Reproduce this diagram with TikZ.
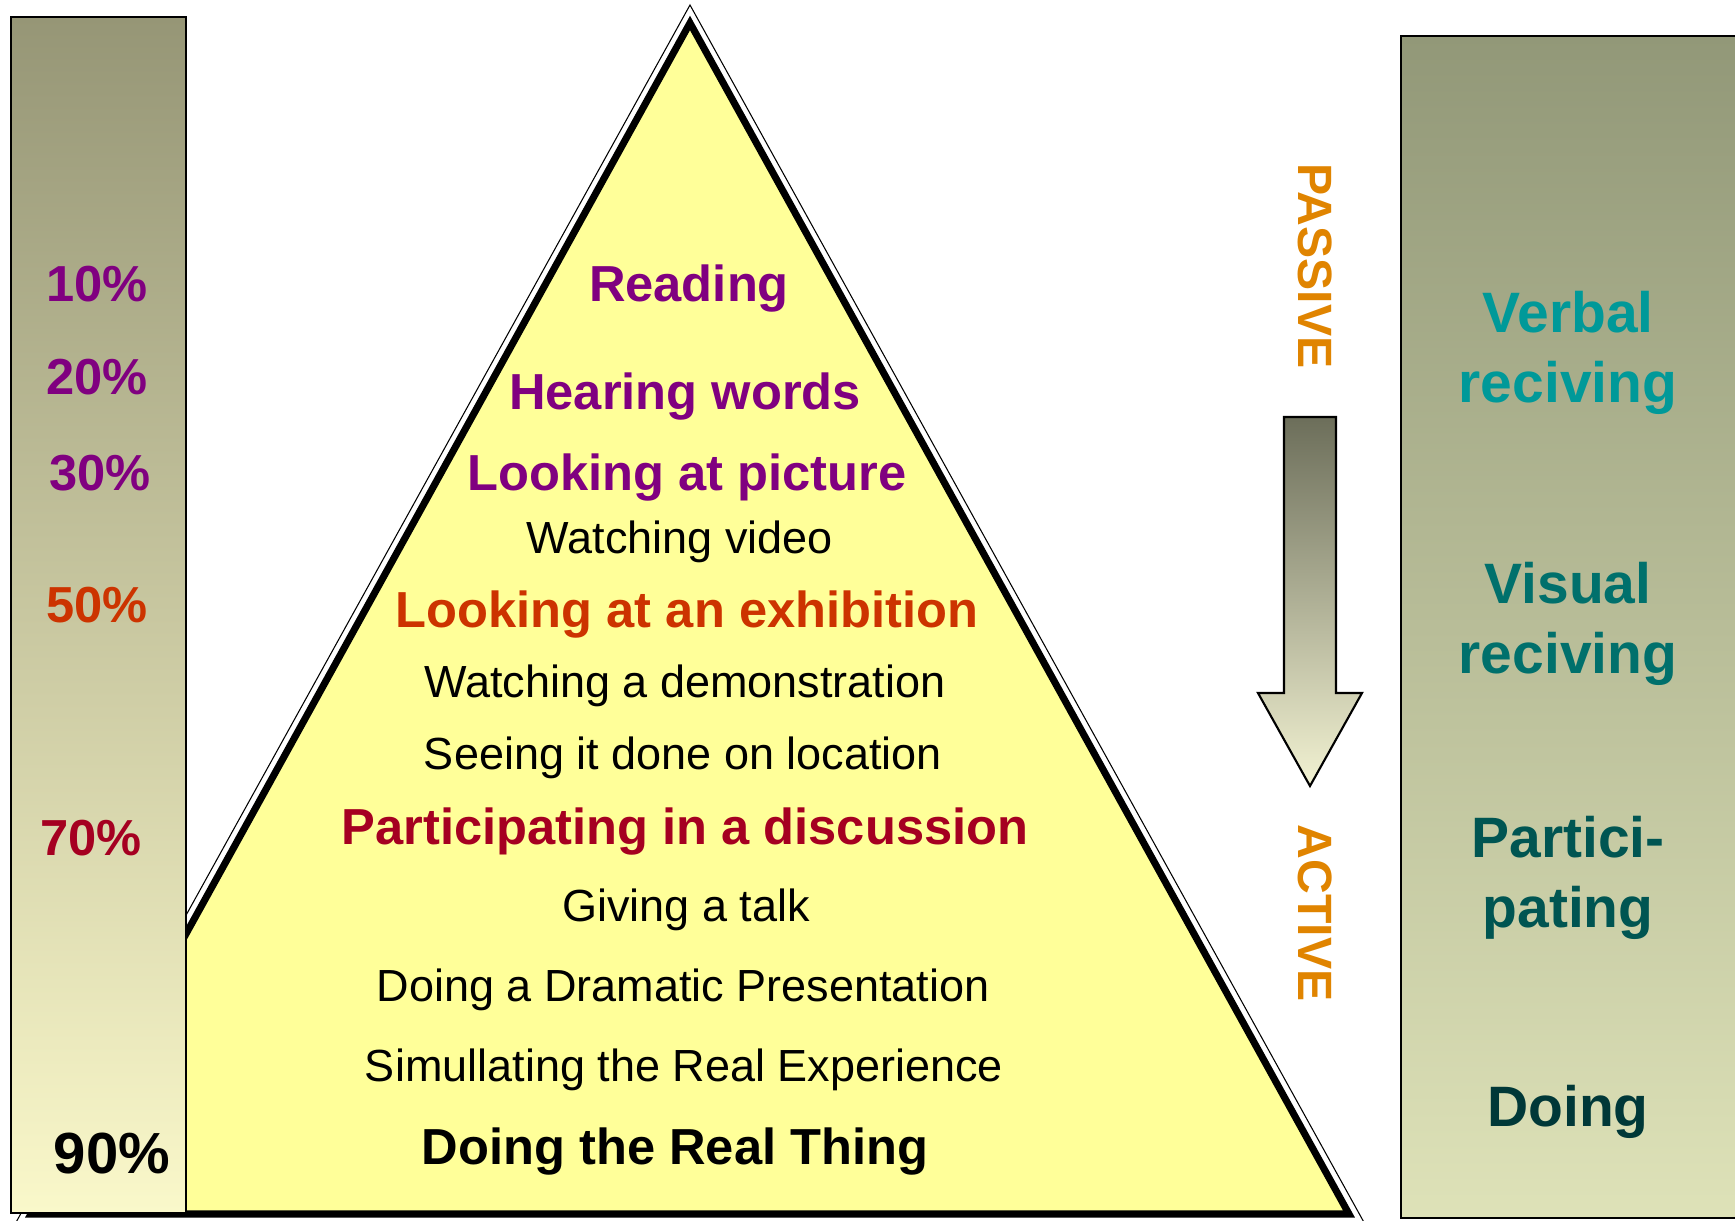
\documentclass[tikz,border=0pt]{standalone}
\usepackage{fontspec}
\setmainfont{Liberation Sans}
\definecolor{pctpurple}{HTML}{800080}
\definecolor{pctorange}{HTML}{CC3300}
\definecolor{pctred}{HTML}{A50021}
\definecolor{sideorange}{RGB}{224,132,0}
\definecolor{tealA}{HTML}{009999}
\definecolor{tealB}{RGB}{0,112,108}
\definecolor{tealC}{RGB}{0,85,82}
\definecolor{tealD}{RGB}{0,56,56}
\definecolor{pyramid}{HTML}{FFFF99}
\definecolor{bartop}{RGB}{150,150,118}
\definecolor{barbot}{RGB}{250,248,202}
\definecolor{paneltop}{RGB}{146,152,120}
\definecolor{panelbot}{RGB}{222,226,184}
\definecolor{arrowtop}{RGB}{108,110,90}
\definecolor{arrowbot}{RGB}{242,242,210}
\begin{document}
\begin{tikzpicture}[x=0.01cm,y=-0.01cm,
  boldline/.style={anchor=base,font=\fontsize{14.4}{17}\selectfont\bfseries},
  plainline/.style={anchor=base,font=\fontsize{12.8}{15}\selectfont},
  pct/.style={anchor=base,font=\fontsize{14.4}{17}\selectfont\bfseries},
  mode/.style={align=center,anchor=base,font=\fontsize{16.2}{19.9}\selectfont\bfseries},
  sideword/.style={rotate=-90,color=sideorange,font=\fontsize{13.7}{17}\selectfont\bfseries}]
\useasboundingbox (0,0) rectangle (1735,1221);
\clip (0,0) rectangle (1735,1221);

% pyramid
\coordinate (apex) at (690,23);
\coordinate (baseR) at (1349,1214);
\coordinate (baseL) at (31,1214);
\draw [line width=0.3pt] (690,5) -- (1371,1235) -- (9,1235) -- cycle;
\draw [line width=2pt,fill=pyramid] (apex) -- (baseR) -- (baseL) -- cycle;

% left bar
\draw [line width=0.6pt,top color=bartop,bottom color=barbot] (11,17) rectangle (186,1213);

% right panel
\draw [line width=0.6pt,top color=paneltop,bottom color=panelbot] (1401,36) rectangle (1745,1218);

% arrow
\draw [line width=0.6pt,top color=arrowtop,bottom color=arrowbot]
  (1284,417) -- (1336,417) -- (1336,693) -- (1362,693) -- (1310,786)
  -- (1258,693) -- (1284,693) -- cycle;

% percentages
\node [pct,color=pctpurple] (p10) at (97,301) {10\%};
\node [pct,color=pctpurple] (p20) at (97,394) {20\%};
\node [pct,color=pctpurple] (p30) at (100,490) {30\%};
\node [pct,color=pctorange] (p50) at (97,622) {50\%};
\node [pct,color=pctred] (p70) at (91,855) {70\%};
\node [pct,font=\fontsize{16.5}{19}\selectfont\bfseries] (p90) at (112,1173) {90\%};

% pyramid lines
\node [boldline,color=pctpurple] (read) at (689,301) {Reading};
\node [boldline,color=pctpurple] (hear) at (685,409) {Hearing words};
\node [boldline,color=pctpurple] (look) at (687,490) {Looking at picture};
\node [plainline] (video) at (680,553) {Watching video};
\node [boldline,color=pctorange] (exhib) at (687,627) {Looking at an exhibition};
\node [plainline] (demo) at (685,697) {Watching a demonstration};
\node [plainline] (site) at (683,769) {Seeing it done on location};
\node [boldline,color=pctred] (discuss) at (685,844) {Participating in a discussion};
\node [plainline] (talk) at (686,921) {Giving a talk};
\node [plainline] (drama) at (683,1001) {Doing a Dramatic Presentation};
\node [plainline] (simul) at (684,1081) {Simullating the Real Experience};
\node [boldline] (real) at (675,1164) {Doing the Real Thing};

% passive / active
\node [sideword] (passive) at (1315,266) {PASSIVE};
\node [sideword] (active) at (1315,913) {ACTIVE};

% modes (base = last line)
\node [mode,color=tealA] (verbal) at (1568,402) {Verbal\\reciving};
\node [mode,color=tealB] (visual) at (1568,673) {Visual\\reciving};
\node [mode,color=tealC] (partic) at (1568,927) {Partici-\\pating};
\node [mode,color=tealD] (doing) at (1568,1126) {Doing};

\end{tikzpicture}
\end{document}
